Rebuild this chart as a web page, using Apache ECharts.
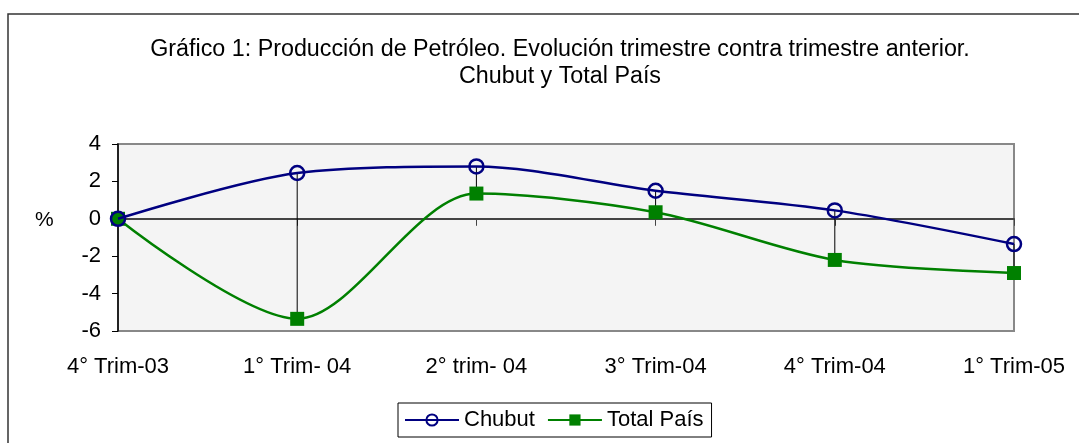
<!DOCTYPE html>
<html>
<head>
<meta charset="utf-8">
<script src="https://cdn.jsdelivr.net/npm/echarts@6/dist/echarts.min.js"></script>
<style>
  html, body { margin: 0; padding: 0; background: #fff; }
  #chart { width: 1079px; height: 443px; }
</style>
</head>
<body>
<div id="chart"></div>
<script>
const quarters = ['4° Trim-03', '1° Trim- 04', '2° trim- 04', '3° Trim-04', '4° Trim-04', '1° Trim-05'];
const chubut = [0, 2.45, 2.8, 1.5, 0.45, -1.35];
const totalPais = [0, -5.35, 1.35, 0.35, -2.2, -2.9];
const yTicks = [-6, -4, -2, 0, 2, 4];

const font = '"Liberation Sans", Arial, sans-serif';

const chart = echarts.init(document.getElementById('chart'));

const option = {
    backgroundColor: '#fff',
    animation: false,
    title: {
        text: 'Gráfico 1: Producción de Petróleo. Evolución trimestre contra trimestre anterior.\nChubut y Total País',
        left: 555,
        top: 31,
        textAlign: 'center',
        textStyle: {
            fontFamily: font,
            fontSize: 23.3,
            fontWeight: 'normal',
            color: '#000',
            lineHeight: 27
        }
    },
    graphic: [
        {
            type: 'rect',
            shape: { x: 8, y: 14, width: 1200, height: 600 },
            style: { fill: null, stroke: '#333', lineWidth: 1.5 },
            silent: true
        },
        {
            type: 'text',
            left: 35,
            top: 210,
            style: { text: '%', font: '21px ' + font, fill: '#000' }
        }
    ],
    legend: {
        bottom: 6,
        left: 398,
        itemWidth: 54,
        itemHeight: 14,
        itemGap: 12,
        padding: [6, 8, 6, 6],
        borderColor: '#000',
        borderWidth: 1,
        borderRadius: 0,
        textStyle: { fontFamily: font, fontSize: 22, color: '#000' },
        data: ['Chubut', 'Total País']
    },
    grid: {
        left: 118,
        right: 65,
        top: 144,
        bottom: 112,
        show: true,
        backgroundColor: '#f4f4f4',
        borderColor: '#888',
        borderWidth: 2
    },
    xAxis: [
        {
            type: 'category',
            data: quarters,
            boundaryGap: false,
            axisLine: { onZero: true, lineStyle: { color: '#444', width: 2 } },
            axisTick: { show: true, length: 7, lineStyle: { color: '#444' } },
            axisLabel: { show: false },
            splitLine: { show: false }
        },
        {
            type: 'category',
            data: quarters,
            boundaryGap: false,
            position: 'bottom',
            axisLine: { show: false, onZero: false },
            axisTick: { show: false },
            axisLabel: {
                margin: 25,
                fontFamily: font,
                fontSize: 22,
                color: '#000'
            },
            splitLine: { show: false }
        }
    ],
    yAxis: {
        type: 'value',
        min: -6,
        max: 4,
        interval: 2,
        axisLine: { show: true, lineStyle: { color: '#000', width: 1.5 } },
        axisTick: { show: true, length: 6, lineStyle: { color: '#000' } },
        axisLabel: {
            margin: 17,
            fontFamily: font,
            fontSize: 22,
            color: '#000',
            formatter: v => (yTicks.includes(v) ? String(v) : '')
        },
        splitLine: { show: false }
    },
    series: [
        {
            name: 'drop',
            type: 'custom',
            silent: true,
            z: 1,
            data: quarters.map((q, i) => [i, chubut[i], totalPais[i]]),
            renderItem: (params, api) => {
                const a = api.coord([api.value(0), api.value(1)]);
                const b = api.coord([api.value(0), api.value(2)]);
                return {
                    type: 'line',
                    shape: { x1: a[0], y1: a[1], x2: b[0], y2: b[1] },
                    style: { stroke: '#000', lineWidth: 1 }
                };
            }
        },
        {
            name: 'Total País',
            type: 'line',
            data: totalPais,
            smooth: 0.3,
            z: 3,
            symbol: 'rect',
            symbolSize: 14,
            itemStyle: { color: '#008000' },
            lineStyle: { color: '#008000', width: 2.5 }
        },
        {
            name: 'Chubut',
            type: 'line',
            data: chubut,
            smooth: 0.3,
            z: 4,
            symbol: 'circle',
            symbolSize: 14,
            itemStyle: { color: 'rgba(0,0,0,0)', borderColor: '#000080', borderWidth: 2.5 },
            lineStyle: { color: '#000080', width: 2.5 }
        }
    ]
};

option && chart.setOption(option);
</script>
</body>
</html>
